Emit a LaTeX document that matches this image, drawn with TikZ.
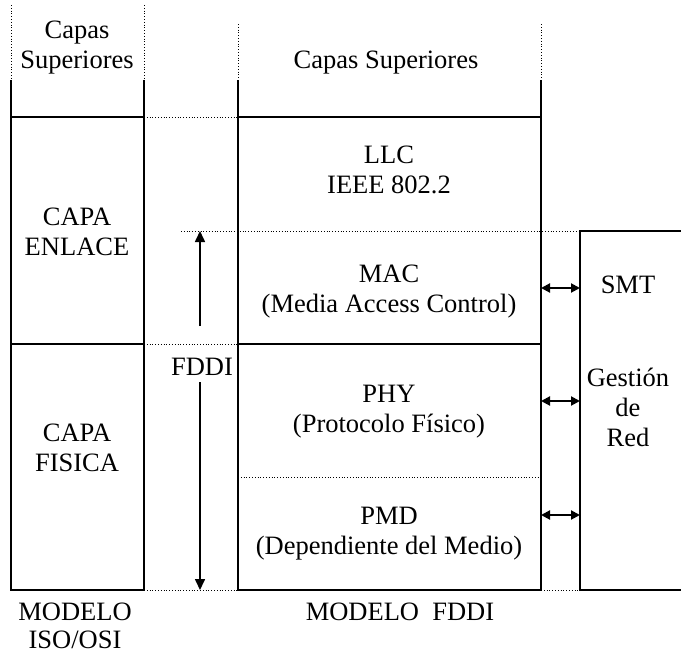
\documentclass[tikz,border=0pt]{standalone}
\usepackage{fontspec}
\setmainfont{Liberation Serif}
\usetikzlibrary{arrows.meta}
\begin{document}
\begin{tikzpicture}[x=1pt,y=-1pt,
  solid line/.style={line width=2.6pt,line join=miter},
  dot line/.style={line width=0.8pt,dotted},
  lbl/.style={align=center,inner sep=0pt,font=\fontsize{26.5}{30}\selectfont},
  uparrow/.style={line width=1.6pt,-{Triangle[length=11pt,width=10pt]}},
  dblarrow/.style={line width=2pt,{Triangle[length=9pt,width=9pt]}-{Triangle[length=9pt,width=9pt]}}]
\useasboundingbox (0,0) rectangle (681,654);
% left column
\draw[dot line] (11,5) -- (11,80);
\draw[dot line] (144,5) -- (144,80);
\draw[solid line] (11,80) -- (11,590) -- (144,590) -- (144,80);
\draw[solid line] (11,117) -- (144,117);
\draw[solid line] (11,344) -- (144,344);
% middle column
\draw[dot line] (238,24) -- (238,80);
\draw[dot line] (541,24) -- (541,80);
\draw[solid line] (238,80) -- (238,590) -- (541,590) -- (541,80);
\draw[solid line] (238,117) -- (541,117);
\draw[solid line] (238,344) -- (541,344);
% SMT box
\draw[solid line] (690,231) -- (580,231) -- (580,590) -- (690,590);
% dotted connectors
\draw[dot line] (144,117) -- (238,117);
\draw[dot line] (181,231) -- (580,231);
\draw[dot line] (144,344) -- (238,344);
\draw[dot line] (238,477) -- (541,477);
\draw[dot line] (144,590) -- (238,590);
\draw[dot line] (541,590) -- (580,590);
% texts
\node[lbl] (cs1) at (77,48) {Capas\\Superiores};
\node[lbl] (cs2) at (386,63) {Capas Superiores};
\node[lbl] (llc) at (389,170) {LLC\\IEEE 802.2};
\node[lbl] (mac) at (389,292) {MAC\\(Media Access Control)};
\node[lbl] (phy) at (389,412) {PHY\\(Protocolo Físico)};
\node[lbl] (pmd) at (389,534) {PMD\\(Dependiente del Medio)};
\node[lbl] (enl) at (77,232) {CAPA\\ENLACE};
\node[lbl] (fis) at (77,448) {CAPA\\FISICA};
\node[lbl] (smt) at (628,285) {SMT};
\node[lbl] (ges) at (628,407) {Gestión\\de\\Red};
\node[lbl] (fddi) at (202,367) {FDDI};
\node[lbl,font=\fontsize{26.5}{28}\selectfont] (miso) at (75,626) {MODELO\\ISO/OSI};
\node[lbl] (mfddi) at (400,612) {MODELO\ \ FDDI};
% vertical arrows
\coordinate (upS) at (200,326);
\coordinate (upE) at (200,231);
\coordinate (dnS) at (200,382);
\coordinate (dnE) at (200,590);
\draw[uparrow] (upS) -- (upE);
\draw[uparrow] (dnS) -- (dnE);
% double arrows
\foreach \yy/\nm in {288/a,401/b,515/c}{
  \coordinate (l\nm) at (541,\yy);
  \coordinate (r\nm) at (580,\yy);
  \draw[dblarrow] (l\nm) -- (r\nm);
}
\end{tikzpicture}
\end{document}
